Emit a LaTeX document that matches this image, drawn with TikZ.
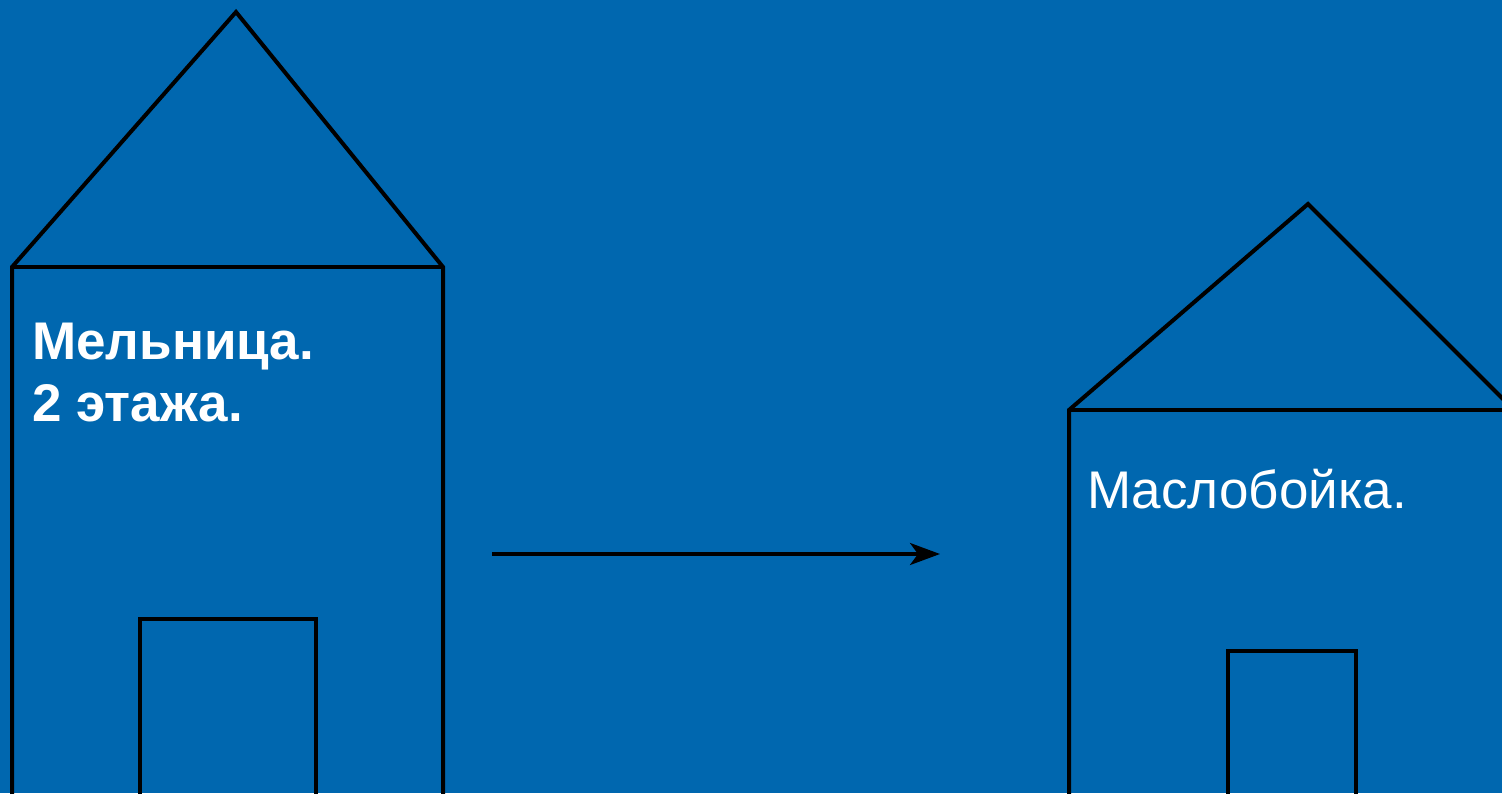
\documentclass[tikz,border=0pt]{standalone}
\usepackage{fontspec}
\setmainfont{Liberation Sans}
\usetikzlibrary{arrows.meta}
\definecolor{bg}{RGB}{0,103,175}
\tikzset{
  wall/.style={draw=black, line width=4pt, line join=miter},
  lbl/.style={text=white, anchor=base west, inner sep=0pt, font=\fontsize{53}{62}\selectfont, align=left}
}
\begin{document}
\begin{tikzpicture}[x=1pt,y=-1pt]
\fill[bg] (0,0) rectangle (1502,793);
\useasboundingbox (0,0) rectangle (1502,793);
\clip (0,0) rectangle (1502,793);
% left house
\coordinate (la) at (236,12);
\coordinate (lbl) at (12,267);
\coordinate (lbr) at (443,267);
\draw[wall] (12,810) -- (lbl) -- (la) -- (lbr) -- (443,810);
\draw[wall] (lbl) -- (lbr);
\draw[wall] (140,810) -- (140,619) -- (316,619) -- (316,810);
% right house
\coordinate (ra) at (1308,204);
\coordinate (rbl) at (1069,410);
\coordinate (rbr) at (1514,410);
\draw[wall] (1069,810) -- (rbl) -- (ra) -- (1514,410);
\draw[wall] (rbl) -- (rbr);
\draw[wall] (1228,810) -- (1228,651) -- (1356,651) -- (1356,810);
% labels
\node[lbl, font=\fontsize{53}{62}\selectfont\bfseries] (t1) at (32,421) {Мельница.\\2 этажа.};
\node[lbl] (t2) at (1087,508) {Маслобойка.};
% arrow
\coordinate (as) at (492,554);
\coordinate (ae) at (940,554);
\draw[line width=3.5pt, -{Stealth[length=30pt,width=22pt,inset=8pt]}] (as) -- (ae);
\end{tikzpicture}
\end{document}
